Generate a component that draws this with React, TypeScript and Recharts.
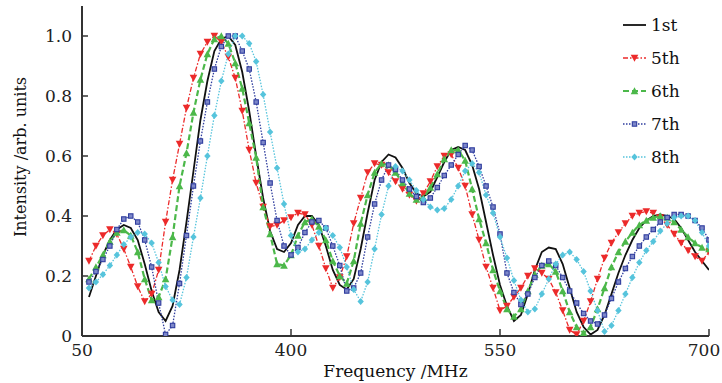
import React from 'react';
import { LineChart, Line, XAxis, YAxis, Legend, Label } from 'recharts';

const FONT = '"DejaVu Serif", serif';

const freqs = [
  255, 260, 265, 270, 275, 280, 285, 290, 295, 300,
  305, 310, 315, 320, 325, 330, 335, 340, 345, 350,
  355, 360, 365, 370, 375, 380, 385, 390, 395, 400,
  405, 410, 415, 420, 425, 430, 435, 440, 445, 450,
  455, 460, 465, 470, 475, 480, 485, 490, 495, 500,
  505, 510, 515, 520, 525, 530, 535, 540, 545, 550,
  555, 560, 565, 570, 575, 580, 585, 590, 595, 600,
  605, 610, 615, 620, 625, 630, 635, 640, 645, 650,
  655, 660, 665, 670, 675, 680, 685, 690, 695, 700,
];

const int1st = [
  0.13, 0.2, 0.27, 0.32, 0.355, 0.37, 0.36, 0.32, 0.24, 0.15,
  0.08, 0.05, 0.1, 0.22, 0.38, 0.55, 0.72, 0.85, 0.95, 0.99,
  1.0, 0.97, 0.88, 0.75, 0.6, 0.46, 0.35, 0.29, 0.28, 0.31,
  0.37, 0.4, 0.4, 0.37, 0.3, 0.22, 0.17, 0.155, 0.19, 0.29,
  0.41, 0.52, 0.58, 0.605, 0.595, 0.56, 0.51, 0.475, 0.465, 0.48,
  0.53, 0.58, 0.62, 0.63, 0.62, 0.57, 0.49, 0.38, 0.27, 0.17,
  0.1, 0.05, 0.07, 0.14, 0.22, 0.28, 0.295, 0.29, 0.24, 0.16,
  0.08, 0.03, 0.005, 0.02, 0.07, 0.14, 0.21, 0.27, 0.32, 0.36,
  0.385, 0.4, 0.405, 0.4, 0.39, 0.36, 0.32, 0.28, 0.25, 0.22,
];

const int5th = [
  0.25, 0.3, 0.335, 0.355, 0.34, 0.29, 0.23, 0.165, 0.115, 0.14,
  0.22, 0.38, 0.52, 0.64, 0.76, 0.86, 0.94, 0.98, 1.0, 0.98,
  0.93, 0.86, 0.75, 0.62, 0.51, 0.43, 0.365, 0.37, 0.385, 0.395,
  0.41, 0.405, 0.37, 0.3, 0.225, 0.16, 0.195, 0.265, 0.375, 0.46,
  0.545, 0.575, 0.57, 0.545, 0.515, 0.49, 0.47, 0.45, 0.475, 0.515,
  0.565, 0.6, 0.605, 0.56, 0.5, 0.405, 0.32, 0.23, 0.16, 0.085,
  0.1, 0.13, 0.16, 0.2, 0.225, 0.21, 0.19, 0.145, 0.085, 0.02,
  0.005, 0.05, 0.115, 0.19, 0.26, 0.31, 0.345, 0.375, 0.4, 0.41,
  0.415, 0.41, 0.395, 0.37, 0.34, 0.31, 0.285, 0.265, 0.25, 0.28,
];

const int6th = [
  0.19, 0.23, 0.27, 0.315, 0.345, 0.353, 0.335, 0.28, 0.19, 0.12,
  0.13, 0.19, 0.33, 0.5, 0.61, 0.745, 0.855, 0.94, 0.99, 1.0,
  0.975, 0.91, 0.825, 0.71, 0.595, 0.43, 0.34, 0.24, 0.235, 0.27,
  0.335, 0.38, 0.39, 0.365, 0.32, 0.25, 0.2, 0.175, 0.25, 0.375,
  0.47, 0.545, 0.575, 0.57, 0.545, 0.51, 0.475, 0.455, 0.46, 0.495,
  0.54, 0.59, 0.62, 0.62, 0.585, 0.49, 0.39, 0.31, 0.22, 0.15,
  0.09, 0.065, 0.09, 0.15, 0.205, 0.235, 0.24, 0.215, 0.15, 0.08,
  0.03, 0.01, 0.03, 0.09, 0.16, 0.23, 0.28, 0.315, 0.345, 0.37,
  0.385, 0.395, 0.4, 0.395, 0.38, 0.355, 0.33, 0.31, 0.295, 0.29,
];

const int7th = [
  0.18, 0.215, 0.255, 0.3, 0.355, 0.39, 0.4, 0.38, 0.32, 0.23,
  0.11, 0.005, 0.035, 0.175, 0.335, 0.5, 0.65, 0.78, 0.89, 0.965,
  1.0, 1.0, 0.95, 0.89, 0.78, 0.645, 0.51, 0.385, 0.3, 0.27,
  0.295, 0.345, 0.38, 0.385, 0.36, 0.3, 0.235, 0.15, 0.16, 0.21,
  0.33, 0.44, 0.52, 0.57, 0.555, 0.52, 0.49, 0.465, 0.445, 0.46,
  0.495, 0.535, 0.57, 0.605, 0.635, 0.62, 0.565, 0.5, 0.43, 0.34,
  0.21, 0.145, 0.105, 0.14, 0.195, 0.235, 0.25, 0.235, 0.195, 0.15,
  0.11, 0.075, 0.05, 0.04, 0.07, 0.125, 0.18, 0.225, 0.265, 0.3,
  0.33, 0.355, 0.38, 0.395, 0.405, 0.405, 0.4, 0.385, 0.36, 0.32,
];

const int8th = [
  0.16, 0.18, 0.205, 0.235, 0.27, 0.305, 0.33, 0.345, 0.34, 0.31,
  0.245, 0.165, 0.12, 0.105, 0.195, 0.33, 0.46, 0.6, 0.735, 0.85,
  0.94, 1.0, 1.0, 0.975, 0.915, 0.805, 0.68, 0.56, 0.44, 0.335,
  0.28, 0.29, 0.32, 0.345, 0.36, 0.335, 0.295, 0.23, 0.155, 0.115,
  0.18, 0.29, 0.405, 0.5, 0.565, 0.55, 0.52, 0.485, 0.455, 0.43,
  0.42, 0.425, 0.455, 0.5, 0.55, 0.575, 0.545, 0.47, 0.41, 0.33,
  0.26, 0.185, 0.12, 0.08, 0.09, 0.14, 0.19, 0.24, 0.27, 0.28,
  0.255, 0.215, 0.15, 0.085, 0.015, 0.035, 0.085, 0.14, 0.195, 0.245,
  0.285, 0.315, 0.35, 0.375, 0.395, 0.4, 0.4, 0.385, 0.345, 0.3,
];

const seriesNames = ['1st', '5th', '6th', '7th', '8th'];
const xTicks = [250, 400, 550, 700];
const xTickLabels = ['50', '400', '550', '700'];
const yTicks = [0, 0.2, 0.4, 0.6, 0.8, 1.0];
const yTickLabels = ['0', '0.2', '0.4', '0.6', '0.8', '1.0'];

const data = freqs.map((f, i) => ({
  f,
  s1: int1st[i],
  s5: int5th[i],
  s6: int6th[i],
  s7: int7th[i],
  s8: int8th[i],
}));

type MarkerKind = 'none' | 'down' | 'up' | 'square' | 'diamond';

const STYLES: { key: string; color: string; dash?: string; width: number; marker: MarkerKind }[] = [
  { key: 's1', color: '#111111', dash: undefined, width: 1.8, marker: 'none' },
  { key: 's5', color: '#ec2a2a', dash: '5 2 1.5 2', width: 1.3, marker: 'down' },
  { key: 's6', color: '#4cb84a', dash: '6 3', width: 2.2, marker: 'up' },
  { key: 's7', color: '#2f3d9e', dash: '1.5 1.5', width: 1.3, marker: 'square' },
  { key: 's8', color: '#56c4dc', dash: '1.5 1.5', width: 1.3, marker: 'diamond' },
];

function MarkerShape({ kind, cx, cy, color }: { kind: MarkerKind; cx: number; cy: number; color: string }) {
  if (cx == null || cy == null || isNaN(cx) || isNaN(cy)) return null;
  switch (kind) {
    case 'down':
      return <polygon points={`${cx - 3.8},${cy - 3.2} ${cx + 3.8},${cy - 3.2} ${cx},${cy + 3.8}`} fill={color} />;
    case 'up':
      return <polygon points={`${cx - 3.8},${cy + 3.2} ${cx + 3.8},${cy + 3.2} ${cx},${cy - 3.8}`} fill={color} />;
    case 'square':
      return <rect x={cx - 2.2} y={cy - 2.2} width={4.4} height={4.4} fill="#7d87c9" stroke={color} strokeWidth={1.1} />;
    case 'diamond':
      return <polygon points={`${cx},${cy - 3.6} ${cx + 3.2},${cy} ${cx},${cy + 3.6} ${cx - 3.2},${cy}`} fill={color} />;
    default:
      return null;
  }
}

const renderLegend = () => (
  <div style={{ fontFamily: FONT, fontSize: 17, color: '#111' }}>
    {STYLES.map((s, i) => (
      <div key={s.key} style={{ display: 'flex', alignItems: 'center', height: 33 }}>
        <svg width={23} height={12} style={{ marginRight: 5 }}>
          <line x1={0} y1={6} x2={23} y2={6} stroke={s.color} strokeWidth={s.width} strokeDasharray={s.dash} />
          {s.marker !== 'none' && <MarkerShape kind={s.marker} cx={11.5} cy={6} color={s.color} />}
        </svg>
        <span>{seriesNames[i]}</span>
      </div>
    ))}
  </div>
);

const axisLine = { stroke: '#333', strokeWidth: 2 };
const tickStyle = { fontSize: 17, fill: '#222', fontFamily: FONT };

const XTick = (props: any) => {
  const { x, y, payload } = props;
  const i = xTicks.indexOf(payload.value);
  const label = i >= 0 ? xTickLabels[i] : '';
  const shift = i === xTicks.length - 1 ? -5 : 0;
  return (
    <text x={x + shift} y={y} dy="0.71em" textAnchor="middle" fontSize={17} fill="#222" fontFamily={FONT}>
      {label}
    </text>
  );
};

export default function App() {
  return (
    <div style={{ position: 'absolute', left: 0, top: 0, background: '#fff' }}>
      <LineChart width={722} height={383} data={data} margin={{ top: 6, right: 13, bottom: 0, left: 0 }}>
        <XAxis
          dataKey="f"
          type="number"
          domain={[250, 700]}
          ticks={xTicks}
          interval={0}
          tickSize={-7}
          tickMargin={15}
          height={47}
          axisLine={axisLine}
          tickLine={{ stroke: '#333', strokeWidth: 1.5 }}
          tick={<XTick />}
          allowDataOverflow
        >
          <Label value="Frequency /MHz" position="insideBottom" offset={6} fontSize={17} fill="#111" fontFamily={FONT} />
        </XAxis>
        <XAxis xAxisId="top" orientation="top" type="number" domain={[250, 700]} height={0} tick={false} tickLine={false} axisLine={axisLine} />
        <YAxis
          type="number"
          domain={[0, 1.1]}
          ticks={yTicks}
          interval={0}
          tickFormatter={(v: number) => yTickLabels[yTicks.indexOf(v)] ?? ''}
          tickSize={-6}
          tickMargin={16}
          width={82}
          axisLine={axisLine}
          tickLine={{ stroke: '#333', strokeWidth: 1.5 }}
          tick={tickStyle}
          allowDataOverflow
        >
          <Label
            content={(props: any) => {
              const vb = props.viewBox || { x: 0, y: 6, width: 82, height: 330 };
              const cx = vb.x + 20;
              const cy = vb.y + vb.height / 2 - 14;
              return (
                <text
                  x={cx}
                  y={cy}
                  transform={`rotate(-90 ${cx} ${cy})`}
                  textAnchor="middle"
                  dominantBaseline="central"
                  fontSize={16}
                  fill="#111"
                  fontFamily={FONT}
                >
                  Intensity /arb. units
                </text>
              );
            }}
          />
        </YAxis>
        <YAxis yAxisId="right" orientation="right" type="number" domain={[0, 1.1]} width={0} tick={false} tickLine={false} axisLine={axisLine} />
        <Legend
          content={renderLegend}
          layout="vertical"
          align="center"
          verticalAlign="middle"
          wrapperStyle={{ left: 623, top: 8, width: 90, height: 170 }}
        />
        {STYLES.map((s, idx) => (
          <Line
            key={s.key}
            dataKey={s.key}
            name={seriesNames[idx]}
            type="linear"
            stroke={s.color}
            strokeWidth={s.width}
            strokeDasharray={s.dash}
            isAnimationActive={false}
            dot={
              s.marker === 'none'
                ? false
                : (p: any) => <MarkerShape key={`${s.key}-${p.index}`} kind={s.marker} cx={p.cx} cy={p.cy} color={s.color} />
            }
            activeDot={false}
          />
        ))}
      </LineChart>
    </div>
  );
}
